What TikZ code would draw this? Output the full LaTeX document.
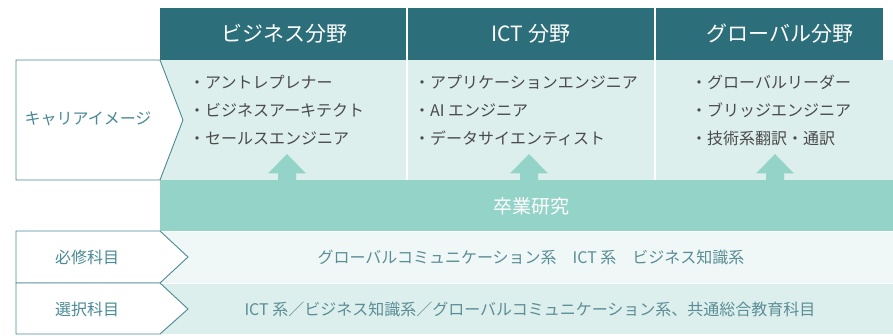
\documentclass[tikz,border=0pt]{standalone}
\usepackage{fontspec}
\setmainfont{Noto Sans CJK JP}
\usetikzlibrary{positioning}
\definecolor{hdr}{HTML}{2C6E7A}
\definecolor{lite}{HTML}{DDEFEC}
\definecolor{band}{HTML}{93D3C8}
\definecolor{pale}{HTML}{EFF8F7}
\definecolor{lbl}{HTML}{4A8A95}
\definecolor{txt}{HTML}{4A4A4A}
\definecolor{rowtxt}{HTML}{5A8D96}
\tikzset{
  hdrtext/.style={text=white,font=\fontsize{21}{24}\selectfont,inner sep=0pt},
  item/.style={text=txt,font=\fontsize{16}{19}\selectfont,anchor=west,inner sep=0pt},
  lbltext/.style={text=lbl,font=\fontsize{16}{19}\selectfont,inner sep=0pt},
  rowtext/.style={text=rowtxt,font=\fontsize{16}{19}\selectfont,inner sep=0pt},
  lblbox/.style={draw=lbl,line width=0.9pt,fill=white},
  sep/.style={draw=white,line width=1.6pt}
}
\begin{document}
\begin{tikzpicture}[x=1pt,y=-1pt]
\useasboundingbox (0,0) rectangle (893,336);
% backgrounds
\fill[hdr] (160,8) rectangle (883,60);
\fill[lite] (160,60) rectangle (893,180);
\fill[band] (160,180) rectangle (893,231);
\fill[pale] (160,231) rectangle (893,283);
\fill[lite] (160,283) rectangle (893,334);
% column separators
\coordinate (s1t) at (407,8); \coordinate (s1b) at (407,180);
\coordinate (s2t) at (655,8); \coordinate (s2b) at (655,180);
\draw[sep] (s1t) -- (s1b);
\draw[sep] (s2t) -- (s2b);
\draw[white,line width=0.8pt] (160,231) -- (893,231);
\draw[white,line width=0.8pt] (160,283) -- (893,283);
% headers
\node[hdrtext] (h1) at (284,34) {ビジネス分野};
\node[hdrtext] (h2) at (531,34) {ICT 分野};
\node[hdrtext] (h3) at (780,34) {グローバル分野};
% arrows
\foreach \cx in {287,529,775}{
  \fill[band] (\cx,154) -- (\cx+19,173.5) -- (\cx+9,173.5) -- (\cx+9,181) -- (\cx-9,181) -- (\cx-9,173.5) -- (\cx-19,173.5) -- cycle;
}
% items
\node[item] (b1) at (189,82) {・アントレプレナー};
\node[item] (b2) at (189,110) {・ビジネスアーキテクト};
\node[item] (b3) at (189,138) {・セールスエンジニア};
\node[item] (i1) at (414,82) {・アプリケーションエンジニア};
\node[item] (i2) at (414,110) {・AI エンジニア};
\node[item] (i3) at (414,138) {・データサイエンティスト};
\node[item] (g1) at (691,82) {・グローバルリーダー};
\node[item] (g2) at (691,110) {・ブリッジエンジニア};
\node[item] (g3) at (691,138) {・技術系翻訳・通訳};
% band text
\node[text=white,font=\fontsize{19}{22}\selectfont,inner sep=0pt] (grad) at (531,206) {卒業研究};
% label boxes
\draw[lblbox] (16,60) -- (160,60) -- (183,120) -- (160,180) -- (16,180) -- cycle;
\node[lbltext] (l1) at (88,119) {キャリアイメージ};
\draw[lblbox] (16,231) -- (160,231) -- (188,257) -- (160,283) -- (16,283) -- cycle;
\node[lbltext] (l2) at (87,257) {必修科目};
\draw[lblbox] (16,283) -- (160,283) -- (188,309) -- (160,334) -- (16,334) -- cycle;
\node[lbltext] (l3) at (87,309) {選択科目};
% row texts
\node[rowtext] (r1) at (531,257) {グローバルコミュニケーション系\hspace{1em}ICT 系\hspace{1em}ビジネス知識系};
\node[rowtext] (r2) at (530,309) {ICT 系／ビジネス知識系／グローバルコミュニケーション系、共通総合教育科目};
\end{tikzpicture}
\end{document}
